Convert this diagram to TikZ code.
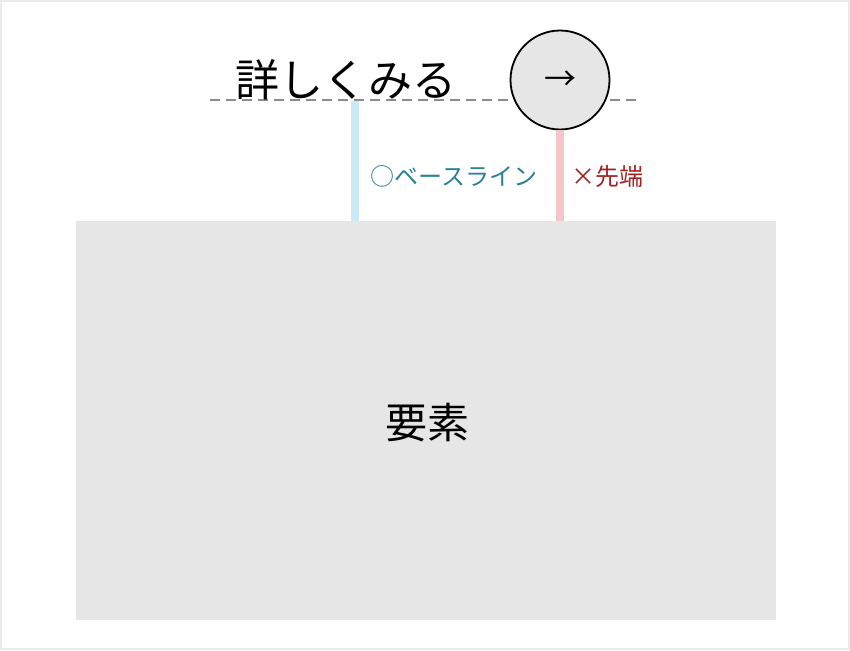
\documentclass[tikz,border=0pt]{standalone}
\usepackage{fontspec}
\setmainfont{Noto Sans CJK JP}
\definecolor{boxgray}{HTML}{E6E6E6}
\definecolor{framegray}{HTML}{EBEBEB}
\definecolor{dashgray}{HTML}{8C8C8C}
\definecolor{baseblue}{HTML}{C8E9F5}
\definecolor{tipred}{HTML}{F5C6C6}
\definecolor{basetext}{HTML}{2B7F99}
\definecolor{tiptext}{HTML}{A32020}
\begin{document}
\begin{tikzpicture}[x=1pt,y=-1pt,
  lbl/.style={inner sep=0pt, font=\fontsize{24}{28}\selectfont},
  guide/.style={line width=8pt}]
\useasboundingbox (0,0) rectangle (850,650);
\draw[framegray, line width=2pt] (1,1) rectangle (849,649);
\node[fill=boxgray, minimum width=700pt, minimum height=399pt, inner sep=0pt, anchor=north west] (elem) at (76,221) {};
\node[inner sep=0pt, font=\fontsize{42}{48}\selectfont] (elemtext) at (427,423) {要素};
\draw[dashgray, line width=1.3pt, dash pattern=on 10pt off 6pt] (210,100) coordinate (dl) -- (642,100) coordinate (dr);
\node[inner sep=0pt, anchor=base west, font=\fontsize{44}{50}\selectfont] (title) at (235,96) {詳しくみる};
\node[circle, draw=black, line width=1.8pt, fill=boxgray, minimum size=99pt, inner sep=0pt] (btn) at (560,80) {};
\node[inner sep=0pt, font=\fontsize{32}{36}\selectfont] (arr) at (560,81) {→};
\coordinate (bluetop) at (355,101);
\coordinate (bluebot) at (355,221);
\draw[baseblue, guide] (bluetop) -- (bluebot);
\coordinate (redbot) at (560,221);
\draw[tipred, guide] (btn.south) -- (redbot);
\node[lbl, text=basetext, anchor=west] (basel) at (370,176) {○ベースライン};
\node[lbl, text=tiptext, anchor=west] (tipl) at (571,176) {×先端};
\end{tikzpicture}
\end{document}
